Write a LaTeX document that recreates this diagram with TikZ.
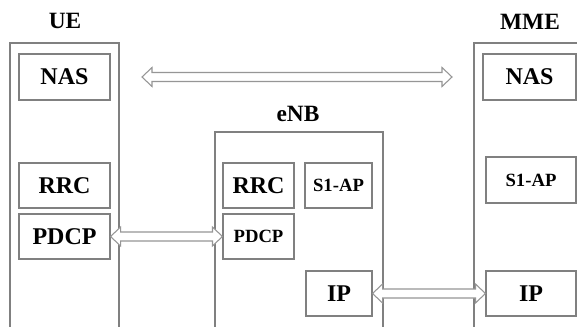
\documentclass[tikz,border=0pt]{standalone}
\usepackage{fontspec}
\setmainfont{Liberation Serif}
\usetikzlibrary{calc}
\definecolor{linegray}{RGB}{128,128,128}
\definecolor{arrowgray}{RGB}{150,150,150}
\newcommand{\hdblarrow}[2]{\draw[dbl] (#1) -- ++(10,-9.5) -- ++(0,5) -- ($(#2)+(-10,-4.5)$) -- ++(0,-5) -- (#2) -- ++(-10,9.5) -- ++(0,-5) -- ($(#1)+(10,4.5)$) -- ++(0,5) -- cycle;}
\begin{document}
\begin{tikzpicture}[x=0.75pt,y=-0.75pt,
  container/.style={draw=linegray, line width=0.8pt, inner sep=0pt},
  box/.style={draw=linegray, line width=0.8pt, inner sep=0pt, text=black, font=\fontsize{18}{20}\selectfont\bfseries},
  smallbox/.style={box, font=\fontsize{14}{16}\selectfont\bfseries},
  title/.style={inner sep=0pt, text=black, font=\fontsize{17.5}{20}\selectfont\bfseries},
  dbl/.style={draw=arrowgray, fill=white, line width=0.8pt, line join=miter}]
\clip (0,0) rectangle (577,327);
\fill[white] (0,0) rectangle (577,327);
% containers
\node[container, minimum width=109*0.75pt, minimum height=302*0.75pt] (ue) at (64.5,194) {};
\node[container, minimum width=168*0.75pt, minimum height=213*0.75pt] (enb) at (299,238.5) {};
\node[container, minimum width=126*0.75pt, minimum height=302*0.75pt] (mme) at (537,194) {};
% titles
\node[title] (uelbl) at (65,21) {UE};
\node[title] (enblbl) at (298,114) {eNB};
\node[title] (mmelbl) at (530,22) {MME};
% UE stack
\node[box, minimum width=91*0.75pt, minimum height=46*0.75pt] (uenas) at (64.5,77) {NAS};
\node[box, minimum width=91*0.75pt, minimum height=45*0.75pt] (uerrc) at (64.5,185.5) {RRC};
\node[box, minimum width=91*0.75pt, minimum height=45*0.75pt] (uepdcp) at (64.5,236.5) {PDCP};
% eNB stack
\node[box, minimum width=71*0.75pt, minimum height=45*0.75pt] (enbrrc) at (258.5,185.5) {RRC};
\node[smallbox, minimum width=71*0.75pt, minimum height=45*0.75pt] (enbpdcp) at (258.5,236.5) {PDCP};
\node[smallbox, minimum width=67*0.75pt, minimum height=45*0.75pt] (enbs1ap) at (338.5,185.5) {S1-AP};
\node[box, minimum width=66*0.75pt, minimum height=45*0.75pt] (enbip) at (339,293.5) {IP};
% MME stack
\node[box, minimum width=93*0.75pt, minimum height=46*0.75pt] (mmenas) at (529.5,77) {NAS};
\node[smallbox, minimum width=90*0.75pt, minimum height=46*0.75pt] (mmes1ap) at (531,180) {S1-AP};
\node[box, minimum width=90*0.75pt, minimum height=45*0.75pt] (mmeip) at (531,293.5) {IP};
% arrows
\coordinate (tl) at (142,77);
\coordinate (tr) at (452,77);
\hdblarrow{tl}{tr}
\hdblarrow{uepdcp.east}{enbpdcp.west}
\hdblarrow{enbip.east}{mmeip.west}
\end{tikzpicture}
\end{document}
